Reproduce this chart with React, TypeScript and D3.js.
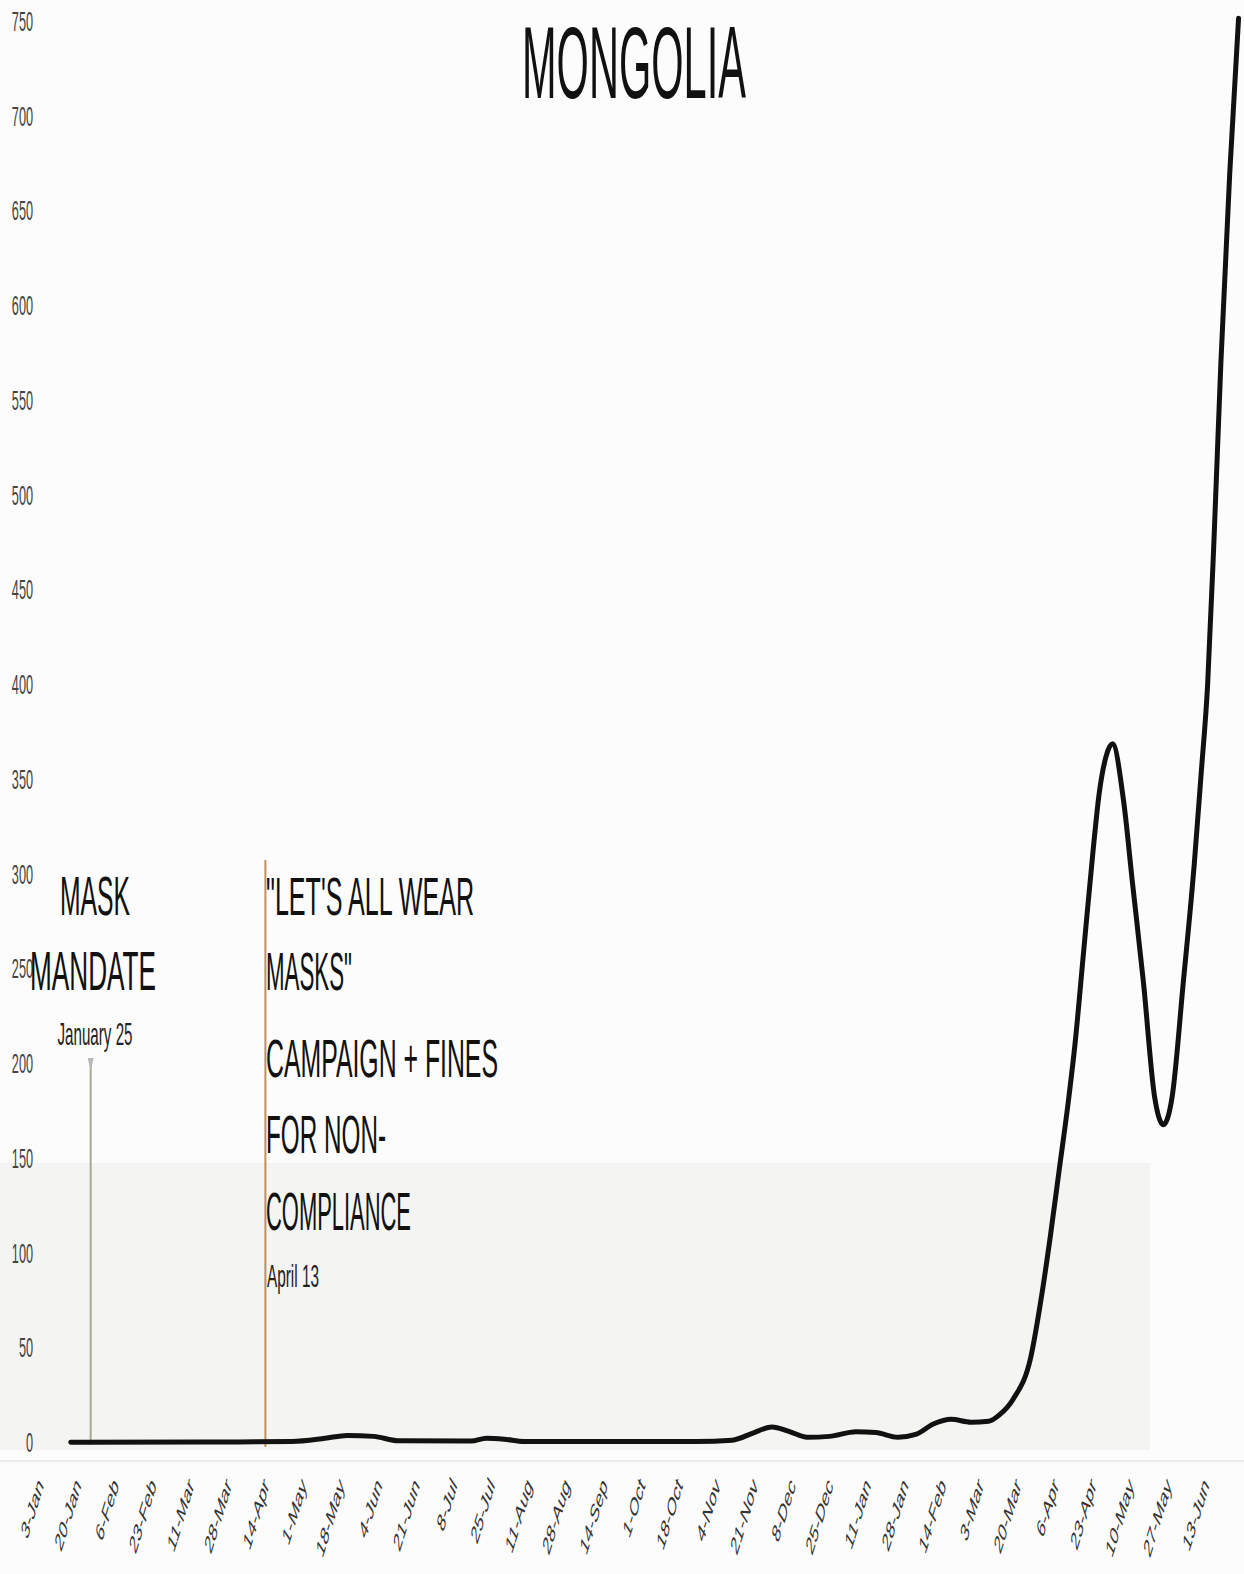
import React from "react";
import * as d3 from "d3";

const TITLE = "MONGOLIA";

const seriesDates = [
  "2020-01-16", "2020-03-15", "2020-04-25", "2020-05-10", "2020-05-20", "2020-06-01",
  "2020-06-12", "2020-07-15", "2020-07-22", "2020-07-30", "2020-08-08", "2020-10-25",
  "2020-11-10", "2020-11-20", "2020-11-28", "2020-12-06", "2020-12-14", "2020-12-24",
  "2021-01-05", "2021-01-14", "2021-01-24", "2021-02-01", "2021-02-09", "2021-02-17",
  "2021-02-26", "2021-03-06", "2021-03-11", "2021-03-17", "2021-03-25", "2021-03-30",
  "2021-04-03", "2021-04-07", "2021-04-11", "2021-04-14", "2021-04-18",
  "2021-04-22", "2021-04-25", "2021-04-28", "2021-05-01", "2021-05-06", "2021-05-10",
  "2021-05-15", "2021-05-20", "2021-05-24", "2021-05-28", "2021-06-02", "2021-06-07",
  "2021-06-10", "2021-06-13", "2021-06-16", "2021-06-19", "2021-06-23", "2021-06-27",
];
const seriesValues = [
  0.4, 0.5, 0.8, 2.5, 4, 3.5,
  1.2, 1, 2.5, 2, 0.8, 0.8,
  1.5, 5.5, 8.5, 6, 3, 3.5,
  6, 5.5, 3, 4.5, 10, 12.5,
  11, 11.5, 15, 23, 45, 78,
  110, 145, 180, 210, 260,
  310, 343, 362, 369, 339, 296,
  243, 183, 168, 183, 243, 306,
  352, 400, 480, 570, 670, 752,
];

const tickDates = [
  "2020-01-03", "2020-01-20", "2020-02-06", "2020-02-23", "2020-03-11", "2020-03-28",
  "2020-04-14", "2020-05-01", "2020-05-18", "2020-06-04", "2020-06-21", "2020-07-08",
  "2020-07-25", "2020-08-11", "2020-08-28", "2020-09-14", "2020-10-01", "2020-10-18",
  "2020-11-04", "2020-11-21", "2020-12-08", "2020-12-25", "2021-01-11", "2021-01-28",
  "2021-02-14", "2021-03-03", "2021-03-20", "2021-04-06", "2021-04-23", "2021-05-10",
  "2021-05-27", "2021-06-13",
];
const yTicks = [0, 50, 100, 150, 200, 250, 300, 350, 400, 450, 500, 550, 600, 650, 700, 750];

const annotationDates = ["2020-01-25", "2020-04-13"];
const maskLines = ["MASK", "MANDATE"];
const maskDate = "January 25";
const campaignLines = ["\"LET'S ALL WEAR", "MASKS\"", "CAMPAIGN + FINES", "FOR NON-", "COMPLIANCE"];
const campaignDate = "April 13";

const FONT = "'Liberation Sans', Arial, sans-serif";
const SY = 2.2;

function SText(props: any) {
  const { x, y, size, anchor = "start", len, fill = "#111", sy = SY, rot = 0, children } = props;
  return (
    <text
      transform={`translate(${x},${y}) scale(1,${sy})${rot ? ` rotate(${rot})` : ""}`}
      fontSize={size}
      fontFamily={FONT}
      textAnchor={anchor}
      fill={fill}
      textLength={len}
      lengthAdjust={len ? "spacingAndGlyphs" : undefined}
    >
      {children}
    </text>
  );
}

export default function App() {
  const parse = d3.utcParse("%Y-%m-%d");
  const fmt = d3.utcFormat("%-d-%b");
  const x = d3
    .scaleUtc()
    .domain([parse("2020-01-03")!, parse("2021-06-13")!])
    .range([42, 1207.6]);
  const y = d3.scaleLinear().domain([0, 750]).range([1443, 22]);

  const data = seriesDates.map((d, i) => ({ date: parse(d)!, value: seriesValues[i] }));
  const line = d3
    .line<{ date: Date; value: number }>()
    .x((d) => x(d.date))
    .y((d) => y(d.value))
    .curve(d3.curveMonotoneX);

  const xMask = x(parse(annotationDates[0])!);
  const xCamp = x(parse(annotationDates[1])!);

  return (
    <svg
      width={1244}
      height={1574}
      style={{ position: "absolute", left: 0, top: 0, display: "block", background: "#fcfcfc" }}
    >
      <rect x={0} y={1163} width={1150} height={287} fill="#f4f4f2" />
      <line x1={0} x2={1244} y1={1461} y2={1461} stroke="#e6e6e6" strokeWidth={1.5} />

      {/* title */}
      <SText x={522} y={98} size={46} len={224} fill="#111">{TITLE}</SText>

      {/* y ticks */}
      {yTicks.map((t) => (
        <SText key={t} x={33} y={y(t) + 9} size={12.7} anchor="end" fill="#444">{t}</SText>
      ))}

      {/* x ticks */}
      {tickDates.map((d) => {
        const dt = parse(d)!;
        return (
          <SText key={d} x={x(dt) + 2} y={1486} size={12} anchor="end" fill="#333" rot={-56}>
            {fmt(dt)}
          </SText>
        );
      })}

      {/* annotation lines */}
      <line x1={xMask} x2={xMask} y1={1062} y2={1445} stroke="#a9a88f" strokeWidth={2} />
      <path d={`M${xMask - 3},1058 L${xMask + 3},1058 L${xMask},1070 Z`} fill="#b8b8b8" />
      <line x1={xCamp} x2={xCamp} y1={860} y2={1447} stroke="#c0905c" strokeWidth={2} />

      {/* mask mandate text */}
      <SText x={95} y={915} size={25.4} anchor="middle" len={70}>{maskLines[0]}</SText>
      <SText x={93} y={990} size={25.4} anchor="middle" len={126}>{maskLines[1]}</SText>
      <SText x={95} y={1045} size={14.6} anchor="middle" len={75} fill="#222">{maskDate}</SText>

      {/* campaign text */}
      {campaignLines.map((t, i) => {
        const bases = [915, 990, 1077, 1153, 1230];
        const lens = [208, 86, 232, 120, 145];
        return (
          <SText key={t} x={266} y={bases[i]} size={24} len={lens[i]}>{t}</SText>
        );
      })}
      <SText x={267} y={1287} size={14.6} len={52} fill="#222">{campaignDate}</SText>

      {/* series */}
      <path d={line(data) || ""} fill="none" stroke="#111" strokeWidth={5} strokeLinejoin="round" strokeLinecap="round" />
    </svg>
  );
}
